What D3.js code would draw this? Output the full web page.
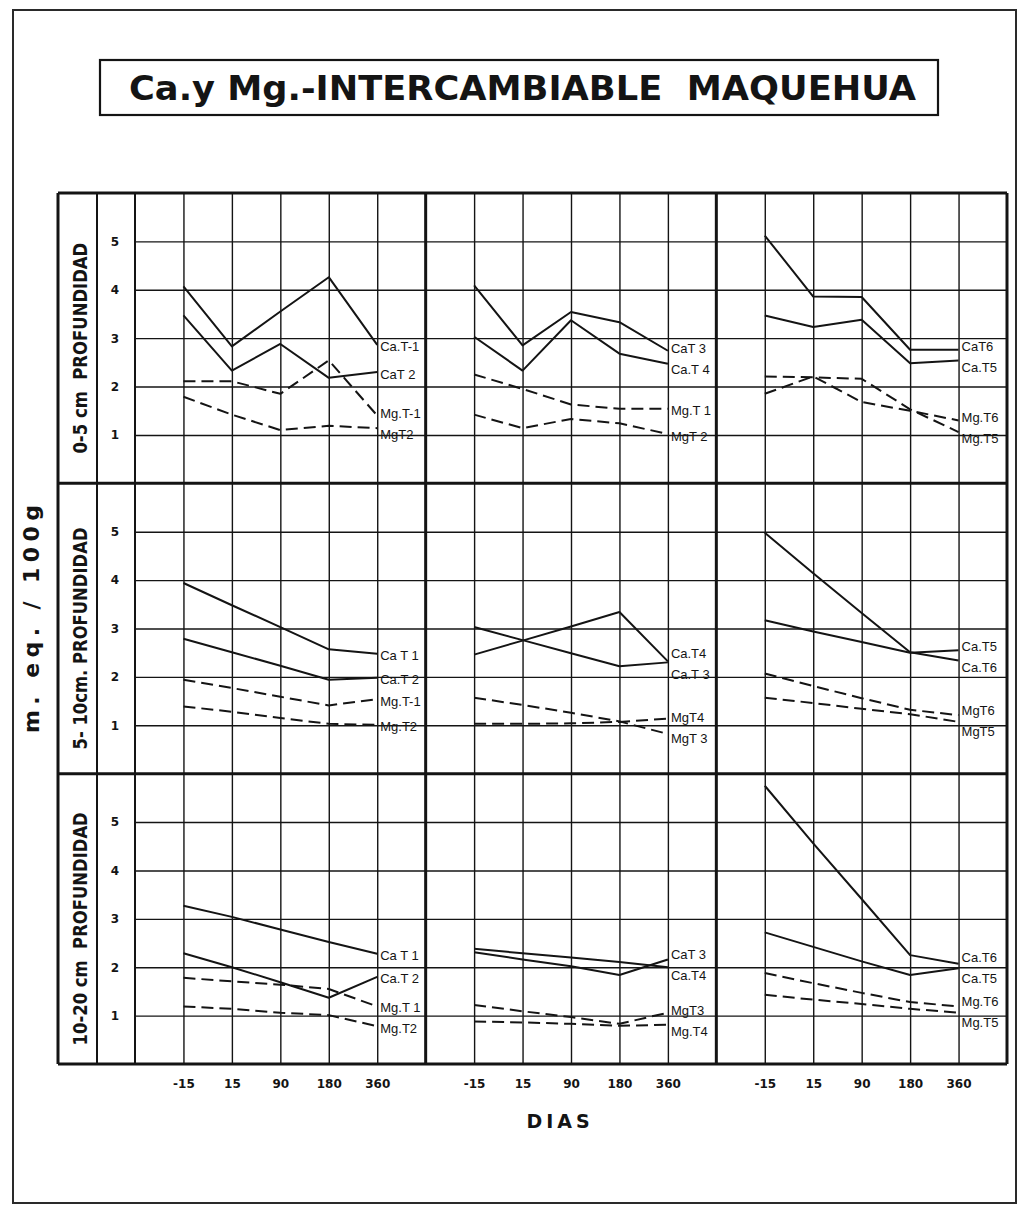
<!DOCTYPE html>
<html lang="es">
<head>
  <meta charset="UTF-8">
  <title>Ca y Mg intercambiable Maquehua</title>
  <style>
    body { margin: 0; background: #fff; }
    svg { display: block; }
    text { fill: #141414; }
  </style>
</head>
<body>

<div id="chart"></div>

<script src="https://d3js.org/d3.v7.min.js"></script>
<script>

const days = ["-15", "15", "90", "180", "360"];
const depths = ["0-5 cm  PROFUNDIDAD", "5- 10cm. PROFUNDIDAD", "10-20 cm  PROFUNDIDAD"];
const yTicks = [1, 2, 3, 4, 5];

// each panel: [label, values at the five days], listed in label order (top to bottom)
const p11 = [
  ["Ca.T-1", [4.07, 2.83, 3.55, 4.26, 2.86]],
  ["CaT 2",  [3.47, 2.33, 2.88, 2.18, 2.30]],
  ["Mg.T-1", [2.11, 2.11, 1.85, 2.54, 1.40]],
  ["MgT2",   [1.79, 1.42, 1.10, 1.19, 1.14]]
];
const p12 = [
  ["CaT 3",  [4.09, 2.85, 3.54, 3.33, 2.74]],
  ["Ca.T 4", [3.03, 2.33, 3.37, 2.68, 2.47]],
  ["Mg.T 1", [2.25, 1.95, 1.63, 1.54, 1.54]],
  ["MgT 2",  [1.42, 1.14, 1.33, 1.24, 1.02]]
];
const p13 = [
  ["CaT6",  [5.12, 3.86, 3.85, 2.76, 2.76]],
  ["Ca.T5", [3.47, 3.23, 3.38, 2.48, 2.54]],
  ["Mg.T6", [1.85, 2.21, 1.68, 1.50, 1.30]],
  ["Mg.T5", [2.21, 2.19, 2.16, 1.53, 1.06]]
];
const p21 = [
  ["Ca T 1",  [3.94, 3.48, 3.03, 2.57, 2.48]],
  ["Ca.T 2",  [2.79, 2.51, 2.23, 1.94, 1.98]],
  ["Mg.T-1",  [1.94, 1.77, 1.59, 1.41, 1.54]],
  ["Mg.T2",   [1.39, 1.28, 1.15, 1.03, 1.01]]
];
const p22 = [
  ["Ca.T4",  [2.46, 2.75, 3.04, 3.34, 2.32]],
  ["Ca.T 3", [3.03, 2.76, 2.49, 2.22, 2.30]],
  ["MgT4",   [1.03, 1.03, 1.04, 1.07, 1.14]],
  ["MgT 3",  [1.57, 1.42, 1.26, 1.08, 0.82]]
];
const p23 = [
  ["Ca.T5", [3.17, 2.94, 2.72, 2.50, 2.55]],
  ["Ca.T6", [4.98, 4.14, 3.32, 2.51, 2.34]],
  ["MgT6",  [2.07, 1.81, 1.56, 1.32, 1.21]],
  ["MgT5",  [1.57, 1.46, 1.34, 1.23, 1.07]]
];
const p31 = [
  ["Ca T 1", [3.27, 3.04, 2.78, 2.52, 2.28]],
  ["Ca.T 2", [2.29, 2.00, 1.69, 1.37, 1.80]],
  ["Mg.T 1", [1.78, 1.71, 1.64, 1.55, 1.19]],
  ["Mg.T2",  [1.19, 1.14, 1.06, 1.01, 0.78]]
];
const p32 = [
  ["CaT 3", [2.38, 2.29, 2.20, 2.11, 2.00]],
  ["Ca.T4", [2.31, 2.16, 2.02, 1.84, 2.16]],
  ["MgT3",  [1.22, 1.09, 0.97, 0.83, 1.06]],
  ["Mg.T4", [0.88, 0.86, 0.83, 0.79, 0.81]]
];
const p33 = [
  ["Ca.T6", [5.75, 4.56, 3.41, 2.25, 2.07]],
  ["Ca.T5", [2.72, 2.42, 2.12, 1.84, 1.98]],
  ["Mg.T6", [1.88, 1.67, 1.47, 1.28, 1.19]],
  ["Mg.T5", [1.43, 1.33, 1.24, 1.14, 1.06]]
];

const panels = [[p11, p12, p13], [p21, p22, p23], [p31, p32, p33]];

const W = 1019, H = 1209;
const gridL = 135, gridR = 1007, gridT = 193, gridB = 1064;
const labL = 58, tickL = 97;
const pw = (gridR - gridL) / 3, ph = (gridB - gridT) / 3;
const ink = "#141414";

const svg = d3.select("#chart").append("svg")
  .attr("width", W)
  .attr("height", H);

svg.append("rect").attr("width", W).attr("height", H).attr("fill", "#fff");

// page frame
svg.append("rect")
  .attr("x", 13).attr("y", 10).attr("width", 1003).attr("height", 1193)
  .attr("fill", "none").attr("stroke", "#2a2a2a").attr("stroke-width", 2);

// title box
svg.append("rect")
  .attr("x", 100).attr("y", 60).attr("width", 838).attr("height", 55)
  .attr("fill", "none").attr("stroke", ink).attr("stroke-width", 2.2);
svg.append("text")
  .attr("x", 129).attr("y", 100)
  .attr("textLength", 787).attr("lengthAdjust", "spacingAndGlyphs")
  .style("white-space", "pre")
  .style("font-family", "'DejaVu Sans', sans-serif")
  .style("font-weight", "bold").style("font-size", "33px")
  .text("Ca.y Mg.-INTERCAMBIABLE  MAQUEHUA");

const line = (x, y) => d3.line().x((d, i) => x(days[i])).y(d => y(d));

function spread(ys, gap) {
  const p = ys.slice();
  for (let it = 0; it < 100; it++) {
    for (let i = 1; i < p.length; i++) {
      const d = p[i] - p[i - 1];
      if (d < gap) { const m = (gap - d) / 2; p[i - 1] -= m; p[i] += m; }
    }
  }
  return p;
}

panels.forEach((row, r) => {
  row.forEach((series, c) => {
    const x0 = gridL + c * pw, y0 = gridT + r * ph;
    const x = d3.scalePoint().domain(days).range([x0, x0 + pw]).padding(1);
    const y = d3.scaleLinear().domain([0, 6]).range([y0 + ph, y0]);
    const g = svg.append("g");

    // grid
    g.append("g")
      .attr("transform", `translate(0,${y0 + ph})`)
      .call(d3.axisBottom(x).tickSize(-ph).tickFormat(""))
      .call(a => a.select(".domain").remove())
      .call(a => a.selectAll("line").attr("stroke", ink).attr("stroke-width", 1.4));
    g.append("g")
      .attr("transform", `translate(${x0},0)`)
      .call(d3.axisLeft(y).tickValues(yTicks).tickSize(-pw).tickFormat(""))
      .call(a => a.select(".domain").remove())
      .call(a => a.selectAll("line").attr("stroke", ink).attr("stroke-width", 1.4));

    // y numbers in the tick column
    if (c === 0) {
      svg.append("g")
        .attr("transform", `translate(${gridL},0)`)
        .call(d3.axisLeft(y).tickValues(yTicks).tickSize(0).tickPadding(16).tickFormat(d3.format("d")))
        .call(a => a.select(".domain").remove())
        .call(a => a.selectAll("text")
          .style("font-family", "'DejaVu Sans', sans-serif")
          .style("font-weight", "bold").style("font-size", "12px").attr("fill", ink));
    }

    // day labels under the last row
    if (r === 2) {
      svg.append("g")
        .attr("transform", `translate(0,${gridB})`)
        .call(d3.axisBottom(x).tickSize(0).tickPadding(15))
        .call(a => a.select(".domain").remove())
        .call(a => a.selectAll("text")
          .style("font-family", "'DejaVu Sans', sans-serif")
          .style("font-weight", "bold").style("font-size", "12px").attr("fill", ink));
    }

    // series
    series.forEach(([name, vals]) => {
      g.append("path")
        .attr("d", line(x, y)(vals))
        .attr("fill", "none")
        .attr("stroke", ink)
        .attr("stroke-width", 2)
        .attr("stroke-linejoin", "round")
        .attr("stroke-dasharray", name.startsWith("Mg") ? "12,6" : null);
    });

    const ly = spread(series.map(s => y(s[1][4])), 21);
    series.forEach(([name], i) => {
      g.append("text")
        .attr("x", x(days[4]) + 3)
        .attr("y", ly[i] + 2)
        .attr("dy", "0.35em")
        .style("font-family", "'Liberation Sans', Arial, sans-serif")
        .style("font-size", "13px")
        .text(name);
    });
  });
});

// column and panel borders
const rowLines = d3.range(4).map(i => gridT + i * ph);
const colLines = [labL, tickL, gridL].concat(d3.range(1, 4).map(i => gridL + i * pw));

svg.append("g").selectAll("line").data(rowLines).join("line")
  .attr("x1", labL).attr("x2", gridR)
  .attr("y1", d => d).attr("y2", d => d)
  .attr("stroke", ink).attr("stroke-width", 3);
svg.append("g").selectAll("line").data(colLines).join("line")
  .attr("x1", d => d).attr("x2", d => d)
  .attr("y1", gridT).attr("y2", gridB)
  .attr("stroke", ink).attr("stroke-width", (d, i) => (i === 1 || i === 2) ? 2 : 3);

// depth labels, condensed lettering
svg.append("g").selectAll("text").data(depths).join("text")
  .attr("transform", (d, i) => `translate(87,${gridT + i * ph + ph / 2 + 10}) rotate(-90)`)
  .attr("text-anchor", "middle")
  .attr("textLength", d => d.length * 11.1)
  .attr("lengthAdjust", "spacingAndGlyphs")
  .style("white-space", "pre")
  .style("font-family", "'DejaVu Sans', sans-serif")
  .style("font-weight", "bold").style("font-size", "20px")
  .text(d => d);

// axis titles
svg.append("text")
  .attr("transform", "translate(39,619) rotate(-90)")
  .attr("text-anchor", "middle")
  .attr("textLength", 228)
  .attr("lengthAdjust", "spacing")
  .style("font-family", "'DejaVu Sans', sans-serif")
  .style("font-weight", "bold").style("font-size", "22px")
  .text("m. eq. / 100g");

svg.append("text")
  .attr("x", 560).attr("y", 1128)
  .attr("text-anchor", "middle")
  .style("font-family", "'DejaVu Sans', sans-serif")
  .style("font-weight", "900").style("font-size", "19px")
  .style("letter-spacing", "4px")
  .text("DIAS");

</script>

</body>
</html>
